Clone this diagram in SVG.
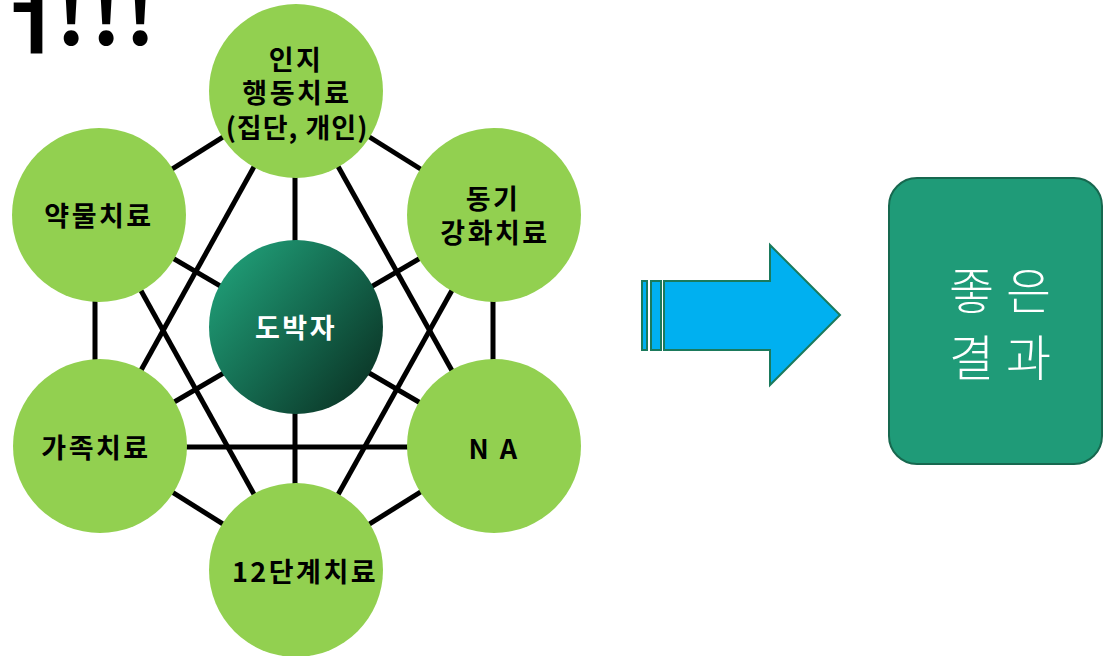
<svg xmlns="http://www.w3.org/2000/svg" width="1103" height="656" viewBox="0 0 1103 656">
<style>
.node{fill:#92d050}
.lbl{font-family:"Noto Sans CJK KR","Noto Sans",sans-serif;font-weight:700;font-size:27px;letter-spacing:2.5px;fill:#000;text-anchor:middle;dominant-baseline:central}
.edge{stroke:#000;stroke-width:5;fill:none}
.res{font-family:"Noto Sans CJK KR",sans-serif;font-weight:300;font-size:49px;letter-spacing:12px;fill:#fff;text-anchor:middle;dominant-baseline:central}
</style>
<defs>
<linearGradient id="cg" x1="0.1" y1="0.15" x2="0.95" y2="0.85">
<stop offset="0" stop-color="#1f9a74"/>
<stop offset="0.5" stop-color="#14684e"/>
<stop offset="1" stop-color="#0b3526"/>
</linearGradient>
</defs>
<rect width="1103" height="656" fill="#fff"/>
<text id="title" y="45" font-family="Noto Sans CJK KR, sans-serif" font-weight="700" font-size="82" fill="#000"><tspan x="-12" font-size="88" y="45">ㅓ</tspan><tspan x="56" y="45">!</tspan><tspan x="91" y="45">!</tspan><tspan x="125" y="45">!</tspan></text>
<g id="connectors">
<line class="edge" x1="296" y1="91" x2="99" y2="215"/>
<line class="edge" x1="296" y1="91" x2="494" y2="215"/>
<line class="edge" x1="95" y1="215" x2="95" y2="446"/>
<line class="edge" x1="493" y1="215" x2="493" y2="446"/>
<line class="edge" x1="99" y1="446" x2="296" y2="570"/>
<line class="edge" x1="494" y1="446" x2="296" y2="570"/>
<line class="edge" x1="99" y1="447" x2="494" y2="447"/>
<line class="edge" x1="295" y1="91" x2="295" y2="570"/>
<line class="edge" x1="296" y1="91" x2="99" y2="446"/>
<line class="edge" x1="296" y1="91" x2="494" y2="446"/>
<line class="edge" x1="99" y1="215" x2="296" y2="570"/>
<line class="edge" x1="494" y1="215" x2="296" y2="570"/>
<line class="edge" x1="99" y1="215" x2="494" y2="446"/>
<line class="edge" x1="494" y1="215" x2="99" y2="446"/>
</g>
<g id="n-top"><circle class="node" cx="296" cy="91" r="87"/>
<text class="lbl"><tspan x="296" y="58">인지</tspan><tspan x="297" y="91">행동치료</tspan><tspan x="297" y="126" letter-spacing="1">(집단, 개인)</tspan></text></g>
<g id="n-ul"><circle class="node" cx="99" cy="215" r="87"/><text class="lbl" x="99" y="214">약물치료</text></g>
<g id="n-ur"><circle class="node" cx="494" cy="215" r="87"/><text class="lbl"><tspan x="493" y="197">동기</tspan><tspan x="495" y="231">강화치료</tspan></text></g>
<g id="n-l"><circle class="node" cx="100" cy="446" r="87"/><text class="lbl" x="96" y="446">가족치료</text></g>
<g id="n-r"><circle class="node" cx="494" cy="446" r="87"/><text class="lbl" x="494" y="447" font-size="23" letter-spacing="-2">N A</text></g>
<g id="n-b"><circle class="node" cx="296" cy="570" r="87"/><text class="lbl" x="305" y="570" letter-spacing="1.5">12단계치료</text></g>
<g id="n-c"><circle cx="296" cy="327" r="87" fill="url(#cg)"/><text class="lbl" x="296" y="326" font-size="23" letter-spacing="0" style="fill:#fff">도박자</text></g>
<g id="arrow">
<rect x="642" y="281" width="5" height="69" fill="#00b0f0" stroke="#1b7a5c" stroke-width="2"/>
<rect x="651" y="281" width="10" height="69" fill="#00b0f0" stroke="#1b7a5c" stroke-width="2"/>
<path d="M664 281 H770 V245 L840 315 L770 385 V350 H664 Z" fill="#00b0f0" stroke="#1b7a5c" stroke-width="2"/>
</g>
<g id="result">
<rect x="889" y="178" width="213" height="286" rx="28" fill="#1f9b78" stroke="#17684f" stroke-width="2"/>
<text class="res"><tspan x="1006" y="287">좋은</tspan><tspan x="1006" y="354">결과</tspan></text>
</g>
</svg>
